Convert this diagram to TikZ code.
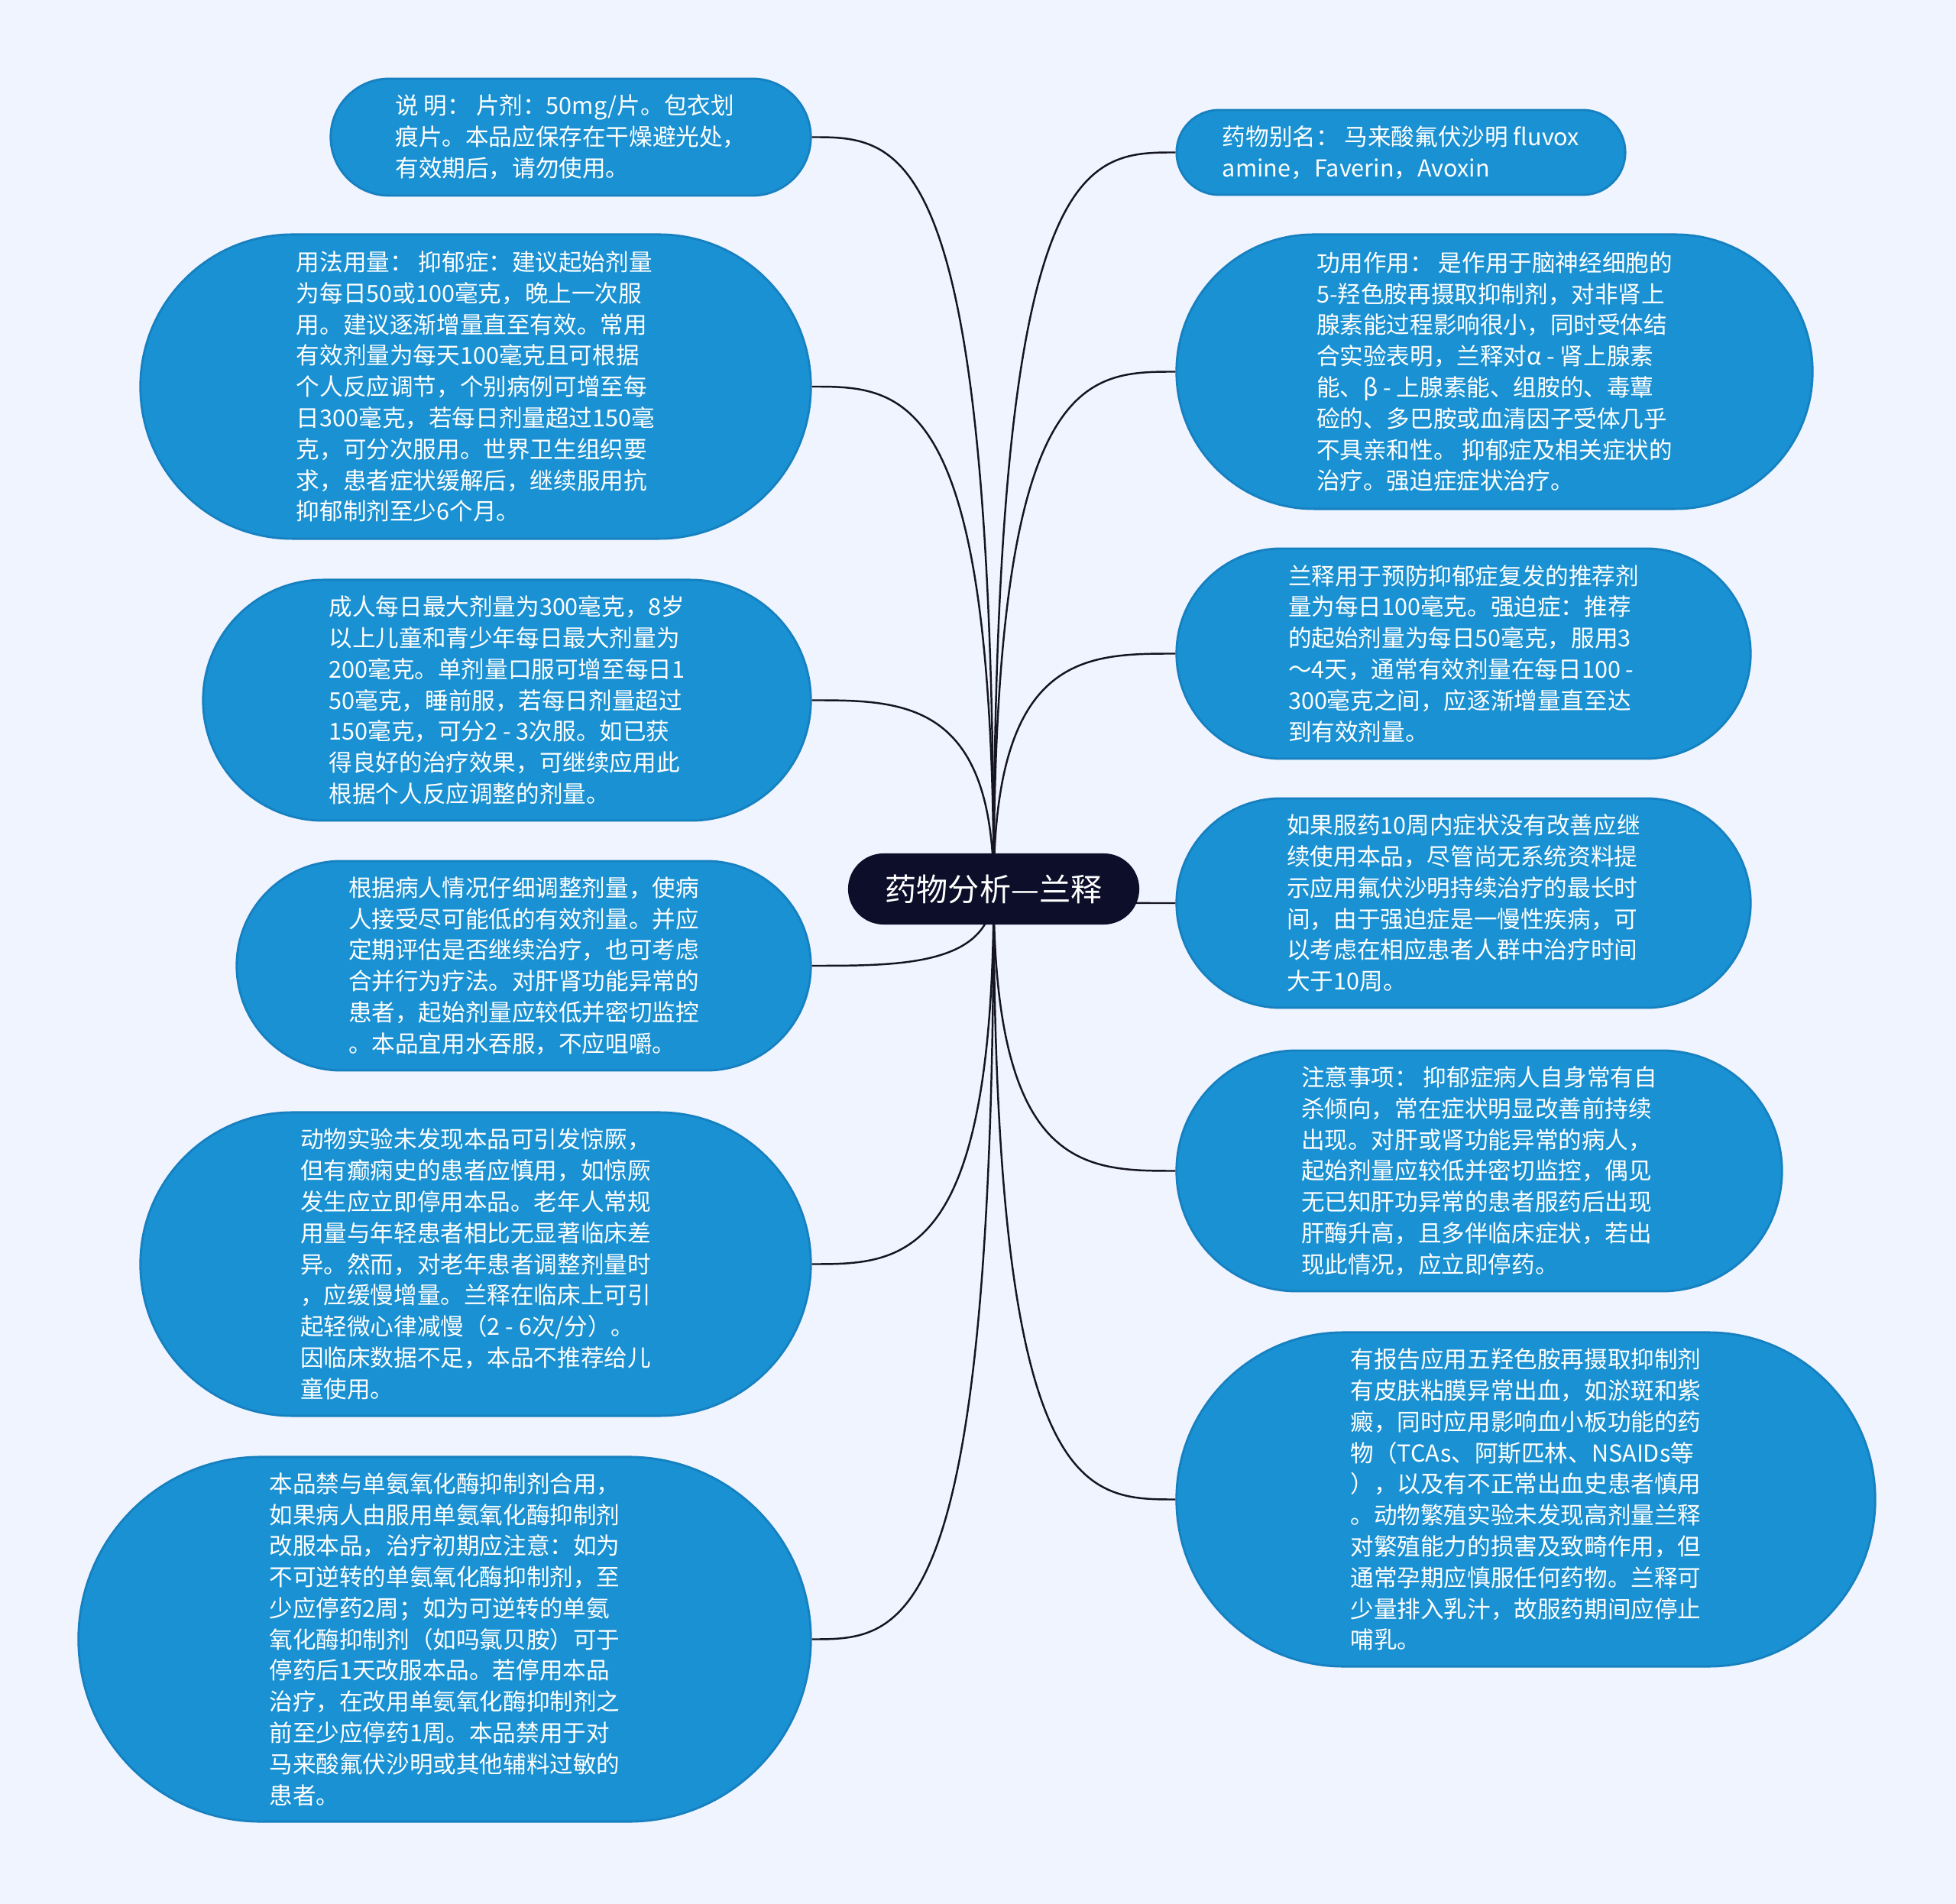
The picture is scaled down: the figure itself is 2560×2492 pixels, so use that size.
\documentclass[tikz,border=0pt]{standalone}
\usepackage{fontspec}
\setmainfont{Noto Sans CJK SC}
\usetikzlibrary{calc}
\definecolor{paper}{RGB}{239,244,254}
\definecolor{leafblue}{RGB}{25,145,210}
\definecolor{leafedge}{RGB}{22,128,192}
\definecolor{hubnavy}{RGB}{12,14,42}
\definecolor{spokeink}{RGB}{20,20,35}
\newcommand{\spoke}[2]{\draw[spokeline] (hubc) .. controls (hubc |- #1.#2) and ($(hubc |- #1.#2)!0.5!(#1.#2)$) .. (#1.#2);}
\tikzset{leaf/.style={draw=leafedge, line width=0.8pt, fill=leafblue, text=white, align=left, inner sep=0pt, font=\fontsize{8.7}{11.6}\selectfont},
  hubnode/.style={fill=hubnavy, text=white, inner sep=0pt, font=\fontsize{11.7}{14}\selectfont},
  spokeline/.style={draw=spokeink, line width=0.7pt}}

\begin{document}
\begin{tikzpicture}[x=0.01cm, y=-0.01cm]
\fill[paper] (0,0) rectangle (2560,2492);
\coordinate (hubc) at (1300.5,1163.5);
% left side
\node[leaf, minimum width=6.28cm, minimum height=1.53cm, rounded corners=0.765cm] (instr) at (747,179.5) {%
说 明： 片剂：50mg/片。包衣划\\%
痕片。本品应保存在干燥避光处，\\%
有效期后，请勿使用。};
\node[leaf, minimum width=8.77cm, minimum height=3.98cm, rounded corners=1.99cm] (dosage) at (622.5,506) {%
用法用量： 抑郁症：建议起始剂量\\%
为每日50或100毫克，晚上一次服\\%
用。建议逐渐增量直至有效。常用\\%
有效剂量为每天100毫克且可根据\\%
个人反应调节，个别病例可增至每\\%
日300毫克，若每日剂量超过150毫\\%
克，可分次服用。世界卫生组织要\\%
求，患者症状缓解后，继续服用抗\\%
抑郁制剂至少6个月。};
\node[leaf, minimum width=7.95cm, minimum height=3.15cm, rounded corners=1.575cm] (maxdose) at (663.5,916.5) {%
成人每日最大剂量为300毫克，8岁\\%
以上儿童和青少年每日最大剂量为\\%
200毫克。单剂量口服可增至每日1\\%
50毫克，睡前服，若每日剂量超过\\%
150毫克，可分2 - 3次服。如已获\\%
得良好的治疗效果，可继续应用此\\%
根据个人反应调整的剂量。};
\node[leaf, minimum width=7.51cm, minimum height=2.74cm, rounded corners=1.37cm] (adjust) at (685.5,1264) {%
根据病人情况仔细调整剂量，使病\\%
人接受尽可能低的有效剂量。并应\\%
定期评估是否继续治疗，也可考虑\\%
合并行为疗法。对肝肾功能异常的\\%
患者，起始剂量应较低并密切监控\\%
。本品宜用水吞服，不应咀嚼。};
\node[leaf, minimum width=8.77cm, minimum height=3.97cm, rounded corners=1.985cm] (seizure) at (622.5,1654.5) {%
动物实验未发现本品可引发惊厥，\\%
但有癫痫史的患者应慎用，如惊厥\\%
发生应立即停用本品。老年人常规\\%
用量与年轻患者相比无显著临床差\\%
异。然而，对老年患者调整剂量时\\%
，应缓慢增量。兰释在临床上可引\\%
起轻微心律减慢（2 - 6次/分）。\\%
因临床数据不足，本品不推荐给儿\\%
童使用。};
\node[leaf, minimum width=9.58cm, minimum height=4.77cm, rounded corners=2.385cm] (maoi) at (582,2145.5) {%
本品禁与单氨氧化酶抑制剂合用，\\%
如果病人由服用单氨氧化酶抑制剂\\%
改服本品，治疗初期应注意：如为\\%
不可逆转的单氨氧化酶抑制剂，至\\%
少应停药2周；如为可逆转的单氨\\%
氧化酶抑制剂（如吗氯贝胺）可于\\%
停药后1天改服本品。若停用本品\\%
治疗，在改用单氨氧化酶抑制剂之\\%
前至少应停药1周。本品禁用于对\\%
马来酸氟伏沙明或其他辅料过敏的\\%
患者。};
% right side
\node[leaf, minimum width=5.87cm, minimum height=1.11cm, rounded corners=0.555cm] (alias) at (1833.5,199.5) {%
药物别名： 马来酸氟伏沙明 fluvox\\%
amine，Faverin，Avoxin};
\node[leaf, minimum width=8.32cm, minimum height=3.59cm, rounded corners=1.795cm] (action) at (1956,486.5) {%
功用作用： 是作用于脑神经细胞的\\%
5-羟色胺再摄取抑制剂，对非肾上\\%
腺素能过程影响很小，同时受体结\\%
合实验表明，兰释对α - 肾上腺素\\%
能、β - 上腺素能、组胺的、毒蕈\\%
硷的、多巴胺或血清因子受体几乎\\%
不具亲和性。 抑郁症及相关症状的\\%
治疗。强迫症症状治疗。};
\node[leaf, minimum width=7.51cm, minimum height=2.75cm, rounded corners=1.375cm] (relapse) at (1915.5,855.5) {%
兰释用于预防抑郁症复发的推荐剂\\%
量为每日100毫克。强迫症：推荐\\%
的起始剂量为每日50毫克，服用3\\%
～4天，通常有效剂量在每日100 -\\%
300毫克之间，应逐渐增量直至达\\%
到有效剂量。};
\node[leaf, minimum width=7.51cm, minimum height=2.74cm, rounded corners=1.37cm] (duration) at (1915.5,1182) {%
如果服药10周内症状没有改善应继\\%
续使用本品，尽管尚无系统资料提\\%
示应用氟伏沙明持续治疗的最长时\\%
间，由于强迫症是一慢性疾病，可\\%
以考虑在相应患者人群中治疗时间\\%
大于10周。};
\node[leaf, minimum width=7.92cm, minimum height=3.15cm, rounded corners=1.575cm] (notice) at (1936,1532.5) {%
注意事项： 抑郁症病人自身常有自\\%
杀倾向，常在症状明显改善前持续\\%
出现。对肝或肾功能异常的病人，\\%
起始剂量应较低并密切监控，偶见\\%
无已知肝功异常的患者服药后出现\\%
肝酶升高，且多伴临床症状，若出\\%
现此情况，应立即停药。};
\node[leaf, minimum width=9.14cm, minimum height=4.37cm, rounded corners=2.185cm] (bleeding) at (1997,1962.5) {%
有报告应用五羟色胺再摄取抑制剂\\%
有皮肤粘膜异常出血，如淤斑和紫\\%
癜，同时应用影响血小板功能的药\\%
物（TCAs、阿斯匹林、NSAIDs等\\%
），以及有不正常出血史患者慎用\\%
。动物繁殖实验未发现高剂量兰释\\%
对繁殖能力的损害及致畸作用，但\\%
通常孕期应慎服任何药物。兰释可\\%
少量排入乳汁，故服药期间应停止\\%
哺乳。};
% connectors
\spoke{instr}{east}
\spoke{dosage}{east}
\spoke{maxdose}{east}
\spoke{adjust}{east}
\spoke{seizure}{east}
\spoke{maoi}{east}
\spoke{alias}{west}
\spoke{action}{west}
\spoke{relapse}{west}
\spoke{duration}{west}
\spoke{notice}{west}
\spoke{bleeding}{west}
\node[hubnode, minimum width=3.81cm, minimum height=0.93cm, rounded corners=0.465cm] (hub) at (hubc) {药物分析—兰释};
\end{tikzpicture}
\end{document}
